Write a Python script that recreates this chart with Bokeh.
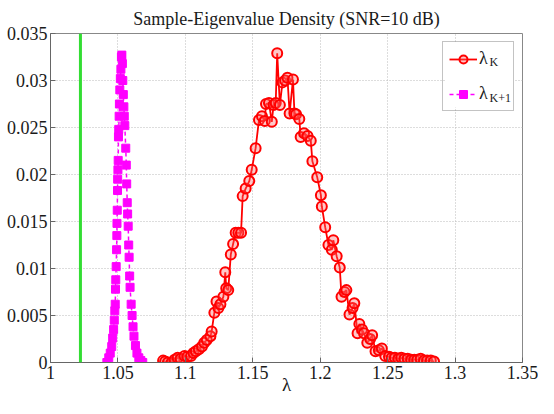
from bokeh.plotting import figure
from bokeh.models import (Range1d, Span, Legend, LegendItem, Label, NumeralTickFormatter,
                          FixedTicker, BoxAnnotation)
from bokeh.embed import file_html
from bokeh.resources import INLINE

# ---- data ----
green_lambda = 1.0222

lam_k = [1.0835, 1.0850, 1.0870, 1.0898, 1.0920, 1.0943, 1.0965, 1.0994, 1.1015, 1.1042,
         1.1060, 1.1078, 1.1100, 1.1123, 1.1140, 1.1159, 1.1186, 1.1195, 1.1215, 1.1231,
         1.1245, 1.1260, 1.1282, 1.1296, 1.1303, 1.1318, 1.1337, 1.1354, 1.1373, 1.1393,
         1.1413, 1.1425, 1.1447, 1.1474, 1.1492, 1.1521, 1.1546, 1.1568, 1.1589, 1.1598,
         1.1620, 1.1641, 1.1654, 1.1670, 1.1681, 1.1701, 1.1720, 1.1740, 1.1757, 1.1773,
         1.1798, 1.1809, 1.1821, 1.1845, 1.1855, 1.1880, 1.1906, 1.1930, 1.1942, 1.1978,
         1.2005, 1.2012, 1.2037, 1.2061, 1.2086, 1.2097, 1.2122, 1.2145, 1.2158, 1.2180,
         1.2194, 1.2217, 1.2240, 1.2253, 1.2277, 1.2290, 1.2310, 1.2325, 1.2349, 1.2370,
         1.2385, 1.2410, 1.2435, 1.2457, 1.2482, 1.2510, 1.2530, 1.2554, 1.2580, 1.2601,
         1.2625, 1.2649, 1.2675, 1.2698, 1.2720, 1.2745, 1.2770, 1.2793, 1.2820, 1.2844]
dens_k = [0.0002, 0.0001, 0.0000, 0.0000, 0.0003, 0.0005, 0.0004, 0.0007, 0.0006, 0.0007,
          0.0010, 0.0012, 0.0014, 0.0017, 0.0021, 0.0024, 0.0028, 0.0033, 0.0053, 0.0065,
          0.0058, 0.0062, 0.0070, 0.0096, 0.0079, 0.0077, 0.0115, 0.0126, 0.0138, 0.0138,
          0.0138, 0.0177, 0.0185, 0.0193, 0.0205, 0.0228, 0.0258, 0.0262, 0.0257, 0.0275,
          0.0276, 0.0256, 0.0274, 0.0276, 0.0329, 0.0274, 0.0298, 0.0300, 0.0303, 0.0265,
          0.0301, 0.0265, 0.0264, 0.0259, 0.0240, 0.0244, 0.0241, 0.0236, 0.0214, 0.0197,
          0.0178, 0.0166, 0.0144, 0.0125, 0.0120, 0.0130, 0.0113, 0.0101, 0.0070, 0.0075,
          0.0077, 0.0051, 0.0058, 0.0063, 0.0031, 0.0041, 0.0035, 0.0031, 0.0021, 0.0025,
          0.0029, 0.0012, 0.0013, 0.0015, 0.0007, 0.0006, 0.0005, 0.0005, 0.0004, 0.0005,
          0.0004, 0.0004, 0.0003, 0.0003, 0.0003, 0.0004, 0.0002, 0.0002, 0.0002, 0.0001]

lam_k1 = [1.0418, 1.0432, 1.0443, 1.0454, 1.0461, 1.0468, 1.0473, 1.0477, 1.0480, 1.0482,
          1.0484, 1.0487, 1.0490, 1.0492, 1.0493, 1.0495, 1.0497, 1.0498, 1.0500, 1.0502,
          1.0504, 1.0506, 1.0509, 1.0511, 1.0514, 1.0518, 1.0522, 1.0526, 1.0529,
          1.0533, 1.0536, 1.0540, 1.0544, 1.0547, 1.0551, 1.0558, 1.0562, 1.0565, 1.0569,
          1.0572, 1.0576, 1.0580, 1.0583, 1.0587, 1.0590, 1.0598, 1.0605, 1.0612, 1.0619,
          1.0630, 1.0641, 1.0655, 1.0670, 1.0684]
dens_k1 = [0.0000, 0.0005, 0.0010, 0.0017, 0.0026, 0.0035, 0.0045, 0.0055, 0.0062, 0.0078,
           0.0088, 0.0102, 0.0120, 0.0135, 0.0148, 0.0162, 0.0183, 0.0195, 0.0205, 0.0215,
           0.0240, 0.0248, 0.0262, 0.0275, 0.0290, 0.0302, 0.0312, 0.0325, 0.0327,
           0.0318, 0.0300, 0.0285, 0.0272, 0.0262, 0.0252, 0.0228, 0.0210, 0.0190, 0.0170,
           0.0158, 0.0145, 0.0125, 0.0112, 0.0092, 0.0080, 0.0062, 0.0050, 0.0038, 0.0028,
           0.0018, 0.0010, 0.0005, 0.0002, 0.0000]

x_ticks = [1.0, 1.05, 1.1, 1.15, 1.2, 1.25, 1.3, 1.35]
y_ticks = [0.0, 0.005, 0.01, 0.015, 0.02, 0.025, 0.03, 0.035]

title_text = "Sample-Eigenvalue Density (SNR=10 dB)"
x_label = "λ"
legend_main = "λ"
sub_k = "K"
sub_k1 = "K+1"

FONT = "Liberation Serif"
FS = "18px"
TXT = "#1a1a1a"

p = figure(width=538, height=398, output_backend="svg", toolbar_location=None,
           x_range=Range1d(1.0, 1.35), y_range=Range1d(0.0, 0.035),
           min_border_left=50, min_border_right=16, min_border_top=33, min_border_bottom=36,
           title=title_text)
p.title.text_font = FONT
p.title.text_font_size = FS
p.title.text_font_style = "normal"
p.title.align = "center"
p.title.text_color = TXT
p.title.standoff = 9

p.outline_line_color = "#888888"
p.background_fill_color = "white"
p.border_fill_color = "white"

for ax, ticks, fmt in ((p.xaxis[0], x_ticks, "0.[00]"), (p.yaxis[0], y_ticks, "0.[000]")):
    ax.ticker = FixedTicker(ticks=ticks)
    ax.formatter = NumeralTickFormatter(format=fmt)
    ax.major_label_text_font = FONT
    ax.major_label_text_font_size = FS
    ax.major_label_text_color = TXT
    ax.major_tick_in = 5
    ax.major_tick_out = 0
    ax.minor_tick_line_color = None
    ax.axis_line_color = "#666666"
    ax.major_tick_line_color = "#666666"
    ax.major_label_standoff = 3

p.xaxis.axis_label = x_label
p.xaxis.axis_label_text_font = FONT
p.xaxis.axis_label_text_font_size = "19px"
p.xaxis.axis_label_text_font_style = "normal"
p.xaxis.axis_label_text_color = TXT
p.xaxis.axis_label_standoff = -8

for g in (p.xgrid[0], p.ygrid[0]):
    g.grid_line_color = "#bbbbbb"
    g.grid_line_dash = "1 2"
    g.grid_line_width = 1
p.xgrid.ticker = FixedTicker(ticks=x_ticks)
p.ygrid.ticker = FixedTicker(ticks=y_ticks)

# white backing for the legend box (legend itself is transparent)
p.add_layout(BoxAnnotation(left=395, right=464, top=320, bottom=255,
                           left_units="screen", right_units="screen",
                           top_units="screen", bottom_units="screen",
                           fill_color="white", fill_alpha=1.0, line_color=None,
                           level="underlay"))

p.add_layout(Span(location=green_lambda, dimension="height", line_color="#33dd33", line_width=3))

mag_line = p.line(lam_k1, dens_k1, line_color="#ff00ff", line_width=1.5, line_dash="4 3")
mag_pts = p.scatter(lam_k1, dens_k1, marker="square", size=8, fill_color="#ff00ff",
                    line_color="#ff00ff", line_width=1)
red_line = p.line(lam_k, dens_k, line_color="#ff0000", line_width=1.8)
red_pts = p.scatter(lam_k, dens_k, marker="circle", size=10, fill_color="#ff6060",
                    fill_alpha=0.35, line_color="#ff0000", line_width=2)

legend = Legend(items=[LegendItem(label=legend_main, renderers=[red_line, red_pts]),
                       LegendItem(label=legend_main, renderers=[mag_line, mag_pts])],
                location="top_right")
legend.label_text_font = FONT
legend.label_text_font_size = FS
legend.label_text_color = TXT
legend.glyph_width = 28
legend.glyph_height = 20
legend.label_height = 20
legend.label_width = 28
legend.label_standoff = 2
legend.spacing = 14
legend.padding = 6
legend.margin = 8
legend.border_line_color = "#888888"
legend.background_fill_alpha = 0.0
p.add_layout(legend, "center")

p.add_layout(Label(x=439, y=294, x_units="screen", y_units="screen", text=sub_k,
                   text_font=FONT, text_font_size="12px", text_color=TXT))
p.add_layout(Label(x=439, y=258, x_units="screen", y_units="screen", text=sub_k1,
                   text_font=FONT, text_font_size="12px", text_color=TXT))

open("out.html", "w").write(file_html(p, INLINE))
